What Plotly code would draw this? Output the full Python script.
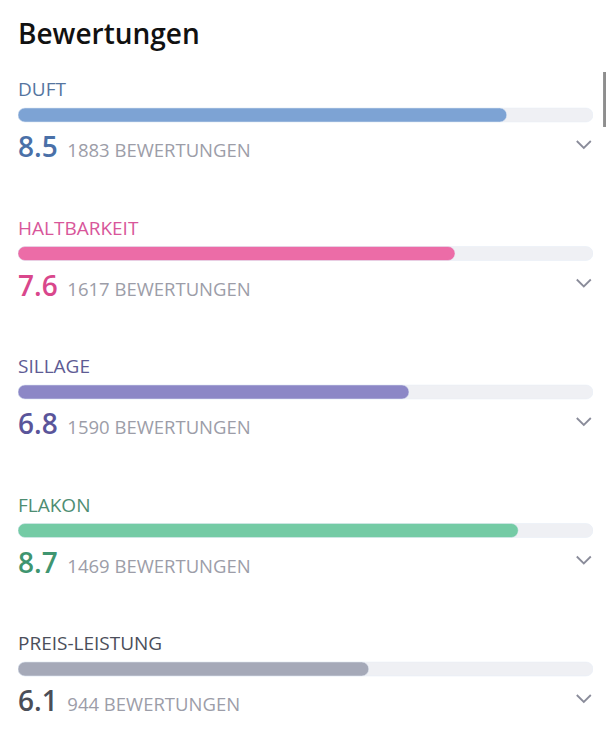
import plotly.graph_objects as go

# Bewertungen (ratings out of 10)
categories = ["DUFT", "HALTBARKEIT", "SILLAGE", "FLAKON", "PREIS-LEISTUNG"]
scores = [8.5, 7.6, 6.8, 8.7, 6.1]
counts = [1883, 1617, 1590, 1469, 944]
max_score = 10

bar_colors = ["#7da3d4", "#ec6ca7", "#8c87c6", "#74cba5", "#a5a9b8"]
label_colors = ["#55759f", "#d8569a", "#5e5b94", "#4e8d72", "#4b4e5a"]
value_colors = ["#4a70a8", "#d9478c", "#5a559a", "#3f9570", "#4b4e58"]
track_color = "#eff0f4"
count_color = "#9c9da8"
font = "Open Sans"

# page body keeps an 8px margin; keep the page from overflowing the window
W, H = 606, 734

ypos = list(range(len(categories)))

fig = go.Figure()
fig.add_trace(go.Bar(
    x=[max_score] * len(categories), y=ypos, orientation="h", base=0,
    width=0.101, marker=dict(color=track_color, cornerradius=7),
    hoverinfo="skip", showlegend=False,
))
fig.add_trace(go.Bar(
    x=scores, y=ypos, orientation="h", base=0,
    width=0.101, marker=dict(color=bar_colors, cornerradius=7),
    hoverinfo="skip", showlegend=False,
))

annotations = [dict(
    text="Bewertungen", xref="paper", yref="paper", x=0, y=1,
    xanchor="left", yanchor="top", yshift=-4, xshift=-2, showarrow=False,
    font=dict(family=font, size=28, color="#111111", weight=600),
)]
shapes = []
for i, cat in enumerate(categories):
    annotations.append(dict(
        text=cat, x=0, y=i, xanchor="left", yanchor="middle",
        yshift=26, xshift=-2, showarrow=False,
        font=dict(family=font, size=19, color=label_colors[i]),
    ))
    annotations.append(dict(
        text=("<span style='font-size:28px;font-weight:600;color:%s'>%.1f</span>"
              "<span style='font-size:18.5px'>&nbsp; %d BEWERTUNGEN</span>")
             % (value_colors[i], scores[i], counts[i]),
        x=0, y=i, xanchor="left", yanchor="middle",
        yshift=-31, xshift=-2, showarrow=False,
        font=dict(family=font, size=18.5, color=count_color),
    ))
    # expand chevron
    shapes.append(dict(
        type="path", xref="paper", yref="y", xsizemode="pixel", ysizemode="pixel",
        xanchor=0.984, yanchor=i, path="M-7,-26 L0,-33 L7,-26",
        line=dict(color="#8a8c9a", width=1.8),
    ))

# scrollbar and right border
shapes.append(dict(type="rect", xref="paper", yref="paper",
                   x0=1.0175, x1=1.0275, y0=1 - 119 / H, y1=1 - 64 / H,
                   fillcolor="#8e8e8e", line=dict(width=0)))
shapes.append(dict(type="line", xref="paper", yref="paper",
                   x0=1.033, x1=1.033, y0=0, y1=1,
                   line=dict(color="#e6e6e6", width=1)))

fig.update_layout(
    width=W, height=H,
    margin=dict(l=10, r=21, t=0, b=0),
    paper_bgcolor="white", plot_bgcolor="white",
    barmode="overlay",
    xaxis=dict(range=[0, max_score], visible=False, fixedrange=True),
    yaxis=dict(range=[(H - 107) / 138.5, -0.7726], visible=False, fixedrange=True),
    annotations=annotations, shapes=shapes,
    font=dict(family=font),
)

fig.write_html("out.html")
